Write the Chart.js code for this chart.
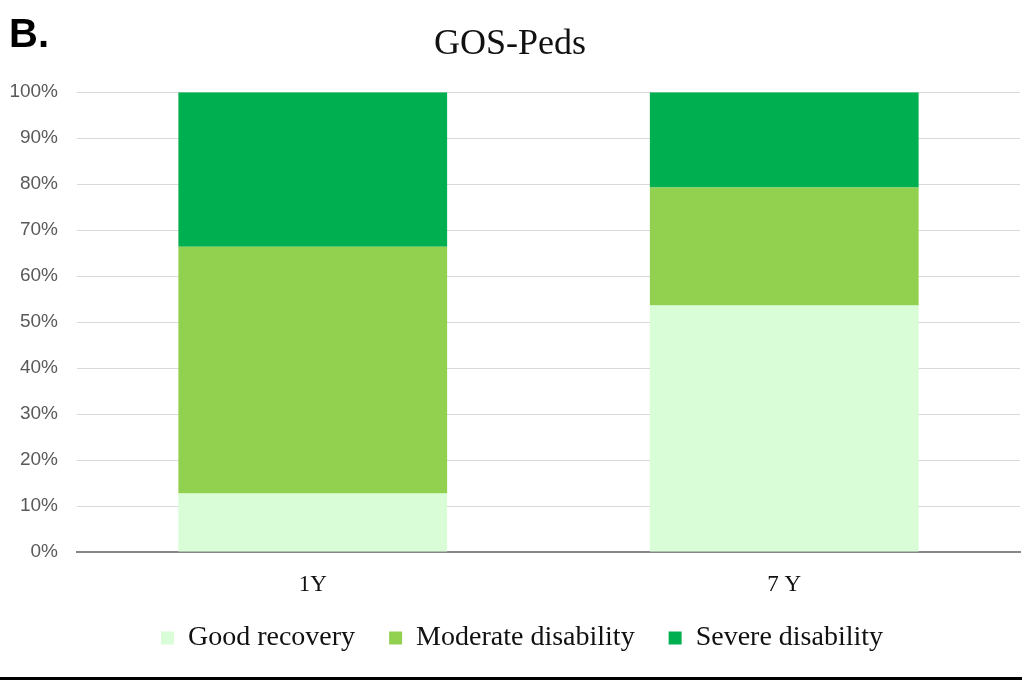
<!DOCTYPE html>
<html>
<head>
<meta charset="utf-8">
<script src="https://cdn.jsdelivr.net/npm/chart.js@4"></script>
<style>
  body { margin: 0; background: #fff; }
  #wrap { position: relative; width: 1022px; height: 677px; border-bottom: 3px solid #000; }
  #panel { position: absolute; left: 9px; top: 13px; font: bold 40px "Liberation Sans", Arial, sans-serif; line-height: 1; color: #000; }
</style>
</head>
<body>
<div id="wrap">
  <canvas id="gosChart"></canvas>
  <div id="panel">B.</div>
</div>
<script>
const categories = ['1Y', '7 Y'];
const goodRecovery = [12.7, 53.6];
const moderateDisability = [53.7, 25.7];
const severeDisability = [33.6, 20.7];
const yTickLabels = ['0%', '10%', '20%', '30%', '40%', '50%', '60%', '70%', '80%', '90%', '100%'];

const serif = '"Liberation Serif", "Times New Roman", serif';

// the legend in the original sits a little right of centre and closer to the axis labels
const legendShift = {
    id: 'legendShift',
    afterLayout(chart) {
        const lg = chart.legend;
        if (lg) {
            lg.left += 12;
            lg.right += 12;
            lg.top -= 8;
            lg.bottom -= 8;
        }
    }
};

const ctx = document.getElementById('gosChart').getContext('2d');
new Chart(ctx, {
    type: 'bar',
    data: {
        labels: categories,
        datasets: [{
            label: 'Good recovery',
            data: goodRecovery,
            backgroundColor: '#d9fdd6'
        }, {
            label: 'Moderate disability',
            data: moderateDisability,
            backgroundColor: '#92d050'
        }, {
            label: 'Severe disability',
            data: severeDisability,
            backgroundColor: '#00b050'
        }]
    },
    plugins: [legendShift],
    options: {
        responsive: true,
        maintainAspectRatio: false,
        animation: false,
        layout: { padding: { left: 0, right: 2, top: 0, bottom: 7 } },
        datasets: {
            bar: { categoryPercentage: 1, barPercentage: 0.57, borderWidth: 0 }
        },
        plugins: {
            title: {
                display: true,
                text: 'GOS-Peds',
                color: '#111',
                font: { family: serif, size: 36, weight: 'normal' },
                padding: { top: 23, bottom: 26 }
            },
            legend: {
                position: 'bottom',
                labels: {
                    color: '#111',
                    font: { family: serif, size: 28 },
                    boxWidth: 13,
                    boxHeight: 13,
                    padding: 34
                }
            },
            tooltip: { enabled: false }
        },
        scales: {
            x: {
                stacked: true,
                grid: { display: false },
                border: { display: true, color: '#868686', width: 2 },
                ticks: {
                    color: '#111',
                    font: { family: serif, size: 23 },
                    padding: 11
                },
                afterFit: function (scale) { scale.height = 46; }
            },
            y: {
                stacked: true,
                min: 0,
                max: 100,
                grid: { color: '#d9d9d9', lineWidth: 1, drawTicks: false },
                border: { display: false },
                ticks: {
                    stepSize: 10,
                    color: '#595959',
                    font: { family: '"Liberation Sans", Arial, sans-serif', size: 19 },
                    padding: 19,
                    callback: function (value, index) { return yTickLabels[index]; }
                },
                afterFit: function (scale) { scale.width = 77; }
            }
        }
    }
});
</script>
</body>
</html>
